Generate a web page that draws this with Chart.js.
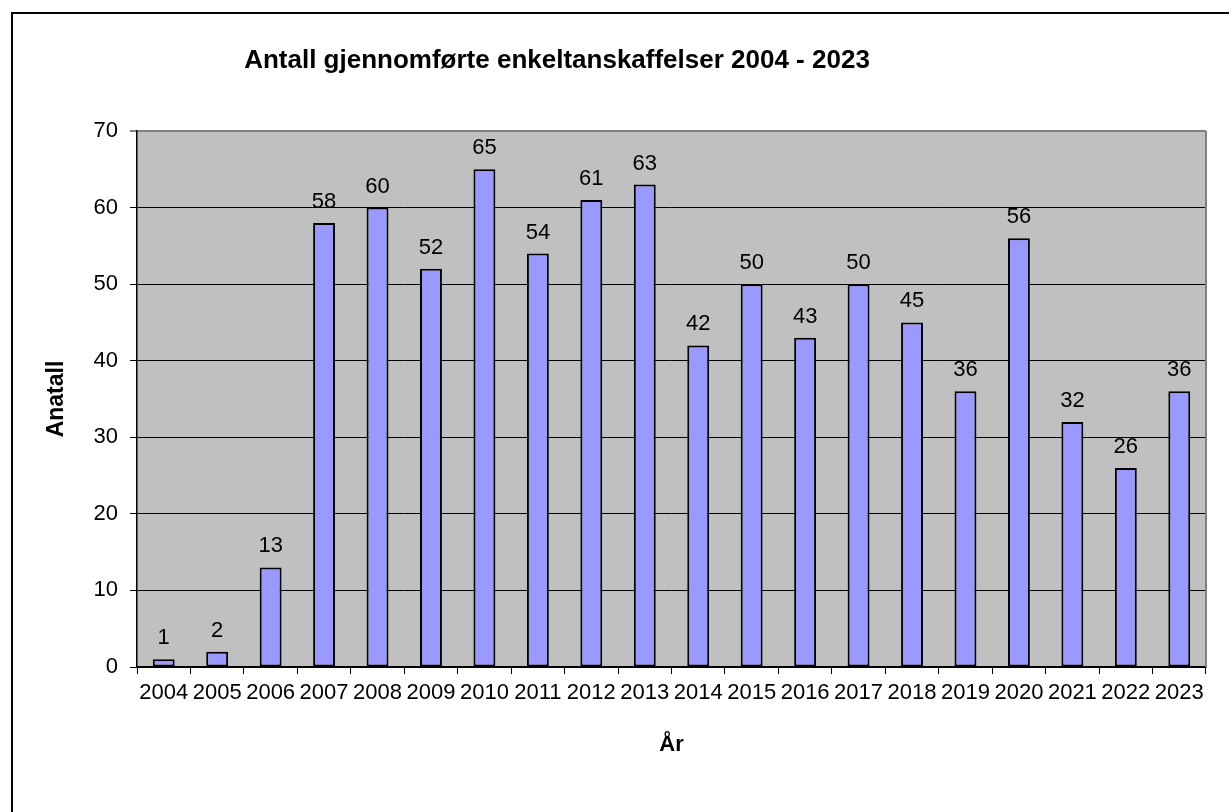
<!DOCTYPE html>
<html>
<head>
<meta charset="utf-8">
<script src="https://cdn.jsdelivr.net/npm/chart.js@4/dist/chart.umd.min.js"></script>
<style>
  html, body { margin: 0; padding: 0; background: #fff; }
  #wrap { position: relative; width: 1229px; height: 812px; overflow: hidden; }
  #frame { position: absolute; left: 11px; top: 12px; width: 1300px; height: 900px;
           border-top: 2px solid #000; border-left: 2px solid #000; }
  canvas { position: absolute; left: 0; top: 0; }
</style>
</head>
<body>
<div id="wrap">
  <div id="frame"></div>
  <canvas id="chart" width="1229" height="812"></canvas>
</div>
<script>
// Data
const years = ["2004", "2005", "2006", "2007", "2008", "2009", "2010", "2011", "2012", "2013",
  "2014", "2015", "2016", "2017", "2018", "2019", "2020", "2021", "2022", "2023"];
const antall = [1, 2, 13, 58, 60, 52, 65, 54, 61, 63, 42, 50, 43, 50, 45, 36, 56, 32, 26, 36];

const chartTitle = "Antall gjennomførte enkeltanskaffelser 2004 - 2023";
const yTitle = "Anatall";
const xTitle = "År";

const fontFamily = "'Liberation Sans', Arial, sans-serif";

// grå bakgrunn i plottområdet + ramme til høyre
const plotBackground = {
  id: "plotBackground",
  beforeDraw(chart) {
    const { ctx, chartArea } = chart;
    ctx.save();
    ctx.fillStyle = "#c0c0c0";
    ctx.fillRect(chartArea.left, chartArea.top, chartArea.right - chartArea.left, chartArea.bottom - chartArea.top);
    ctx.restore();
  },
  afterDraw(chart) {
    const { ctx, chartArea } = chart;
    ctx.save();
    ctx.strokeStyle = "#808080";
    ctx.lineWidth = 2;
    ctx.beginPath();
    ctx.moveTo(chartArea.right, chartArea.top);
    ctx.lineTo(chartArea.right, chartArea.bottom);
    ctx.stroke();
    ctx.restore();
  }
};

// verdier over søylene
const barLabels = {
  id: "barLabels",
  afterDatasetsDraw(chart) {
    const { ctx } = chart;
    const meta = chart.getDatasetMeta(0);
    ctx.save();
    ctx.fillStyle = "#000";
    ctx.font = "22px " + fontFamily;
    ctx.textAlign = "center";
    ctx.textBaseline = "alphabetic";
    meta.data.forEach((bar, i) => {
      ctx.fillText(String(antall[i]), bar.x, bar.y - 15);
    });
    ctx.restore();
  }
};

// tittel
const titleText = {
  id: "titleText",
  afterDraw(chart) {
    const { ctx } = chart;
    ctx.save();
    ctx.fillStyle = "#000";
    ctx.font = "bold 26px " + fontFamily;
    ctx.textAlign = "center";
    ctx.textBaseline = "alphabetic";
    ctx.fillText(chartTitle, 557, 68);
    ctx.restore();
  }
};

const ctx = document.getElementById("chart").getContext("2d");
new Chart(ctx, {
  type: "bar",
  data: {
    labels: years,
    datasets: [{
      data: antall,
      backgroundColor: "#9999ff",
      borderColor: "#000",
      borderWidth: 2,
      borderSkipped: false,
      barPercentage: 0.41,
      categoryPercentage: 1.0
    }]
  },
  options: {
    responsive: false,
    animation: false,
    layout: { padding: { top: 131, right: 23, left: 0, bottom: 0 } },
    plugins: {
      legend: { display: false },
      tooltip: { enabled: false },
      title: { display: false }
    },
    scales: {
      x: {
        afterFit(scale) { scale.height = 145; },
        grid: {
          offset: true,
          drawOnChartArea: false,
          drawTicks: true,
          tickLength: 7,
          color: "#000",
          lineWidth: 1
        },
        border: { color: "#000", width: 1.5 },
        ticks: {
          color: "#000",
          font: { family: fontFamily, size: 22 },
          padding: 6,
          maxRotation: 0,
          autoSkip: false
        },
        title: {
          display: true,
          text: xTitle,
          color: "#000",
          font: { family: fontFamily, size: 22, weight: "bold" },
          padding: { top: 0, bottom: 54 }
        }
      },
      y: {
        min: 0,
        max: 70,
        afterFit(scale) { scale.width = 137; },
        grid: {
          color: (c) => (c.tick && c.tick.value === 70 ? "#808080" : "#000"),
          lineWidth: (c) => (c.tick && c.tick.value === 70 ? 2 : 1),
          tickLength: 7
        },
        border: { color: "#000", width: 1.5 },
        ticks: {
          stepSize: 10,
          color: "#000",
          font: { family: fontFamily, size: 22 },
          padding: 12
        },
        title: {
          display: true,
          text: yTitle,
          color: "#000",
          font: { family: fontFamily, size: 23, weight: "bold" },
          padding: { top: 43, bottom: 0 }
        }
      }
    }
  },
  plugins: [plotBackground, barLabels, titleText]
});
</script>
</body>
</html>
